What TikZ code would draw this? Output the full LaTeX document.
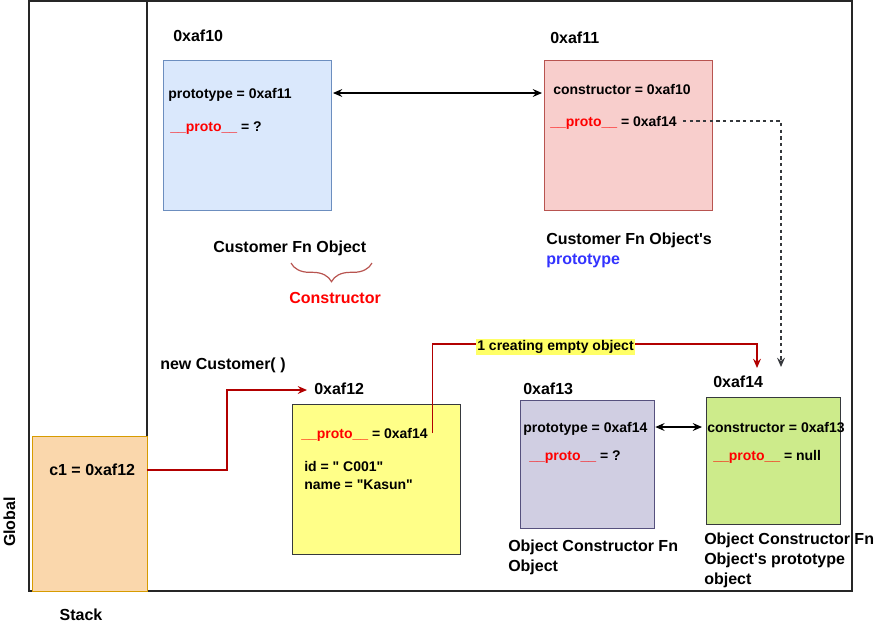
\documentclass[tikz,border=0pt]{standalone}
\usepackage{fontspec}
\setmainfont{Liberation Sans}
\usetikzlibrary{arrows.meta,decorations.pathreplacing}
\definecolor{fnfill}{HTML}{DAE8FC}
\definecolor{fndraw}{HTML}{6C8EBF}
\definecolor{ptfill}{HTML}{F8CECC}
\definecolor{ptdraw}{HTML}{B85450}
\definecolor{stfill}{HTML}{FAD7AC}
\definecolor{stdraw}{HTML}{D79B00}
\definecolor{cufill}{HTML}{FFFF88}
\definecolor{ofill}{HTML}{D0CEE2}
\definecolor{odraw}{HTML}{56517E}
\definecolor{opfill}{HTML}{CDEB8B}
\definecolor{darkline}{HTML}{36393D}
\definecolor{arrred}{HTML}{B20000}
\definecolor{protored}{HTML}{FF0000}
\definecolor{ptblue}{HTML}{3333FF}
\definecolor{notefill}{HTML}{FFFF66}
\newcommand{\protokey}{{\color{protored}\_\_proto\_\_}}
\begin{document}
\begin{tikzpicture}[x=0.75pt, y=-0.75pt,
    membox/.style={draw, anchor=north west, inner sep=0pt, outer sep=0pt, line width=0.75pt},
    txt/.style={anchor=west, inner sep=0pt, text height=7.5pt, text depth=0pt, font=\bfseries\fontsize{10.5}{13.5}\selectfont},
    lbl/.style={anchor=west, inner sep=0pt, text height=8.6pt, text depth=0pt, font=\bfseries\fontsize{12}{15}\selectfont},
    multi/.style={anchor=base west, align=left, inner sep=0pt, font=\bfseries\fontsize{12}{15}\selectfont},
    redarrow/.style={draw=arrred, line width=1pt, -{Stealth[length=7pt, width=6pt, inset=2.5pt]}},
    dblarrow/.style={black, line width=0.8pt, {Stealth[length=7pt, width=6pt, inset=2.5pt]}-{Stealth[length=7pt, width=6pt, inset=2.5pt]}}]
      \useasboundingbox (0,0) rectangle (876,629);
      \draw[line width=1pt, black!85] (29,1) rectangle (852,591);
      \draw[line width=1pt, black!85] (147,1) -- (147,436);
      \node (stackbox)[membox, fill=stfill, draw=stdraw, minimum width=86.25pt, minimum height=116.25pt] at (32,436) {};
      \node (fnobj)[membox, fill=fnfill, draw=fndraw, minimum width=126pt, minimum height=112.5pt] at (163,60) {};
      \node (protoobj)[membox, fill=ptfill, draw=ptdraw, minimum width=126pt, minimum height=112.5pt] at (544,60) {};
      \node (custobj)[membox, fill=cufill, draw=darkline, minimum width=126pt, minimum height=112.5pt] at (292,404) {};
      \node (objfn)[membox, fill=ofill, draw=odraw, minimum width=100.5pt, minimum height=96pt] at (520,400) {};
      \node (objproto)[membox, fill=opfill, draw=darkline, minimum width=100.5pt, minimum height=95.25pt] at (706,397) {};
      \node (global)[lbl, anchor=center, rotate=90] at (9.5,522) {Global};
      \node (stack)[lbl, anchor=center] at (81,615) {Stack};
      \node (c1)[lbl] at (49,470) {c1 = 0xaf12};
      \node (addr10)[lbl] at (173,36) {0xaf10};
      \node (ptype)[txt] at (168,93) {prototype = 0xaf11};
      \node (fproto)[txt] at (170,126) {\protokey{} = ?};
      \node (addr11)[lbl] at (550,38) {0xaf11};
      \node (ctor)[txt] at (553,89) {constructor = 0xaf10};
      \node (pproto)[txt] at (550,121) {\protokey{} = 0xaf14};
      \node (fnname)[lbl] at (213,247) {Customer Fn Object};
      \node (cname)[lbl, text=protored] at (289,298) {Constructor};
      \node (pname)[multi] at (546,264) {Customer Fn Object\textquotesingle s\\{\color{ptblue}prototype}};
      \node (newc)[lbl] at (160,364) {new Customer( )};
      \node (addr12)[lbl] at (314,389) {0xaf12};
      \node (cproto)[txt] at (301,433) {\protokey{} = 0xaf14};
      \node (cfields)[multi, font=\bfseries\fontsize{10.5}{13.5}\selectfont] at (304,489) {id = \textquotedbl{} C001\textquotedbl\\name = \textquotedbl Kasun\textquotedbl};
      \node (addr13)[lbl] at (523,389) {0xaf13};
      \node (optype)[txt] at (523,427) {prototype = 0xaf14};
      \node (oproto)[txt] at (529,455) {\protokey{} = ?};
      \node (addr14)[lbl] at (713,382) {0xaf14};
      \node (octor)[txt] at (707,427) {constructor = 0xaf13};
      \node (nproto)[txt] at (713,455) {\protokey{} = null};
      \node (oname)[multi] at (508,571) {Object Constructor Fn\\Object};
      \node (opname)[multi] at (704,584) {Object Constructor Fn\\Object\textquotesingle s prototype\\object};
      \coordinate (bend1) at (227,390);
      \coordinate (newtip) at (307,390);
      \coordinate (ctop) at (757,344);
      \coordinate (ctip) at (757,368);
      \coordinate (dtip) at (781,367);
      \draw[dblarrow] ([xshift=1.5pt]fnobj.east |- ptype) -- ([xshift=-1.5pt]protoobj.west |- ptype) [] {};
      \draw[dblarrow] ([xshift=1pt]objfn.east |- optype) -- ([xshift=-3pt]objproto.west |- optype) [] {};
      \draw[darkline, line width=1pt, dash pattern=on 2.5pt off 2.5pt, -{Stealth[length=7pt, width=6pt, inset=2.5pt]}] ([xshift=4.5pt]pproto.east) -| (dtip) [] {};
      \draw[redarrow] (stackbox.east |- c1) -| (bend1) -- (newtip) [] {};
      \draw[redarrow] ([xshift=3.5pt]cproto.east) |- (ctop) -- (ctip) [] {};
      \node (cnote)[txt, anchor=center, fill=notefill, inner sep=1pt, text depth=2pt] at (555.5,347) {1 creating empty object};
      \draw[ptdraw, line width=0.9pt, decorate, decoration={brace, mirror, amplitude=14pt, aspect=0.5}] (291,263) -- (372,263);
    \end{tikzpicture}
\end{document}
